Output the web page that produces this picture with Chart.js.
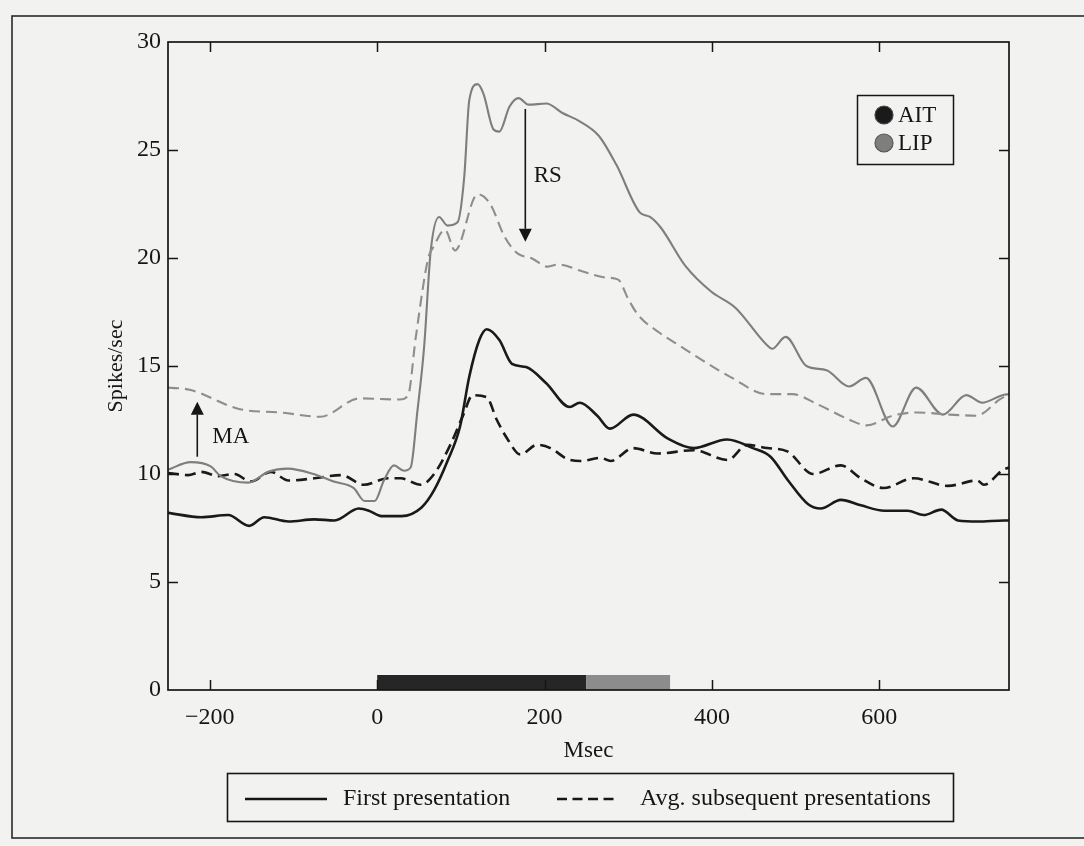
<!DOCTYPE html>
<html>
<head>
<meta charset="utf-8">
<script src="https://cdn.jsdelivr.net/npm/chart.js@4.4.0/dist/chart.umd.min.js"></script>
<style>
  html, body { margin: 0; padding: 0; background: #f2f2f0; }
  #wrap { position: relative; width: 1084px; height: 846px; }
</style>
</head>
<body>
<div id="wrap"><canvas id="c" width="1084" height="846"></canvas></div>
<script>
// ---------- data ----------
const xTicks = [-200, 0, 200, 400, 600];
const yTicks = [0, 5, 10, 15, 20, 25, 30];

// AIT, first presentation (solid black)
const aitFirstT = [-250,-210,-178,-153,-135,-106,-75,-51,-22,-10,5,29,53,68,84,99,110,122,131,146,161,178,202,230,242,263,278,306,347,378,418,449,470,491,515,530,554,578,606,634,653,674,694,718,749,755];
const aitFirstV = [8.2,8.0,8.1,7.6,8.0,7.8,7.9,7.85,8.4,8.3,8.05,8.05,8.45,9.25,10.6,12.2,14.5,16.2,16.7,16.2,15.1,14.95,14.2,13.1,13.3,12.7,12.1,12.75,11.65,11.2,11.6,11.2,10.8,9.7,8.6,8.4,8.8,8.55,8.3,8.3,8.1,8.35,7.85,7.8,7.85,7.85];

// AIT, avg. subsequent presentations (dashed black)
const aitSubT = [-250,-226,-210,-190,-171,-151,-127,-106,-75,-43,-16,13,28,52,68,88,103,114,131,143,156,171,191,207,227,243,267,279,306,335,378,419,442,466,490,521,554,578,605,641,682,717,725,748,755];
const aitSubV = [10.05,9.95,10.1,9.9,10.0,9.65,10.1,9.7,9.8,9.95,9.5,9.8,9.8,9.5,10.0,11.4,12.75,13.65,13.55,12.5,11.6,10.9,11.35,11.2,10.7,10.6,10.75,10.6,11.2,10.95,11.1,10.65,11.35,11.2,11.05,10.0,10.4,9.8,9.35,9.8,9.45,9.7,9.5,10.2,10.3];

// LIP, first presentation (solid gray)
const lipFirstT = [-250,-223,-199,-187,-154,-130,-107,-76,-52,-28,-15,-3,8,20,32,40,48,56,64,74,84,96,104,110,120,127,139,146,158,169,181,202,222,241,265,286,314,326,339,368,399,428,465,472,488,513,537,564,584,616,644,676,704,723,747,755];
const lipFirstV = [10.2,10.55,10.35,9.9,9.6,10.1,10.25,10.0,9.65,9.35,8.75,8.75,9.7,10.4,10.15,10.3,12.9,15.85,20.35,21.9,21.5,21.65,23.75,27.3,28.05,27.6,25.95,25.85,27.0,27.4,27.1,27.15,26.7,26.35,25.65,24.3,22.1,21.9,21.4,19.65,18.45,17.7,16.0,15.8,16.35,15.0,14.8,14.05,14.45,12.2,14.0,12.75,13.65,13.3,13.65,13.7];

// LIP, avg. subsequent presentations (dashed gray)
const lipSubT = [-250,-224,-164,-116,-68,-21,27,37,46,61,67,81,93,120,135,152,168,184,204,216,244,272,288,300,312,337,361,385,424,465,496,525,565,585,616,645,684,716,744,755];
const lipSubV = [14.0,13.9,13.0,12.85,12.65,13.5,13.45,13.65,16.3,20.0,20.5,21.3,20.35,22.95,22.5,21.0,20.2,20.0,19.6,19.7,19.4,19.1,19.0,18.1,17.35,16.55,15.95,15.35,14.45,13.7,13.7,13.25,12.5,12.25,12.7,12.85,12.75,12.7,13.45,13.7];

// stimulus epochs (msec): dark bar 0-250, gray bar 250-350
const stimEpochs = [0, 250, 350];

// annotation arrows: [x, yFrom, yTo] and label anchors [x, y]
const maArrow = [-215, 10.8, 13.35];
const maLabel = [-197, 11.7];
const rsArrow = [177, 26.9, 20.75];
const rsLabel = [187, 23.8];

const seriesNames = ['AIT', 'LIP'];
const styleNames = ['First presentation', 'Avg. subsequent presentations'];

// ---------- helpers ----------
const pts = (t, v) => t.map((x, i) => ({ x, y: v[i] }));
const SERIF = '"Liberation Serif", "DejaVu Serif", serif';
const INK = '#161616';
const AIT_COL = '#1a1a1a';
const LIP_COL = '#7e7e7e';
const LIP_COL_D = '#8e8e8e';

const decor = {
  id: 'decor',
  beforeDraw(chart) {
    const { ctx } = chart;
    ctx.save();
    ctx.fillStyle = '#f2f2f0';
    ctx.fillRect(0, 0, chart.width, chart.height);
    // outer figure frame
    ctx.strokeStyle = '#2a2a2a';
    ctx.lineWidth = 1.6;
    ctx.strokeRect(12, 16, 1090, 822);
    ctx.restore();
  },
  afterDatasetsDraw(chart) {
    const { ctx, chartArea: a, scales: { x, y } } = chart;
    ctx.save();

    // stimulus bar
    const yb = y.getPixelForValue(0);
    const barH = 15;
    ctx.fillStyle = '#262626';
    ctx.fillRect(x.getPixelForValue(stimEpochs[0]), yb - barH, x.getPixelForValue(stimEpochs[1]) - x.getPixelForValue(stimEpochs[0]), barH);
    ctx.fillStyle = '#8c8c8c';
    ctx.fillRect(x.getPixelForValue(stimEpochs[1]), yb - barH, x.getPixelForValue(stimEpochs[2]) - x.getPixelForValue(stimEpochs[1]), barH);

    // frame
    ctx.strokeStyle = INK;
    ctx.lineWidth = 1.7;
    ctx.strokeRect(a.left, a.top, a.right - a.left, a.bottom - a.top);

    // inward ticks
    const tl = 10;
    ctx.lineWidth = 1.5;
    ctx.beginPath();
    xTicks.forEach(v => {
      const px = Math.round(x.getPixelForValue(v)) + 0.5;
      ctx.moveTo(px, a.bottom); ctx.lineTo(px, a.bottom - tl);
      ctx.moveTo(px, a.top); ctx.lineTo(px, a.top + tl);
    });
    yTicks.forEach(v => {
      if (v === y.min || v === y.max) return;
      const py = Math.round(y.getPixelForValue(v)) + 0.5;
      ctx.moveTo(a.left, py); ctx.lineTo(a.left + tl, py);
      ctx.moveTo(a.right, py); ctx.lineTo(a.right - tl, py);
    });
    ctx.stroke();

    // arrows
    const arrow = (xv, y1v, y2v) => {
      const px = x.getPixelForValue(xv);
      const p1 = y.getPixelForValue(y1v);
      const p2 = y.getPixelForValue(y2v);
      const dir = p2 > p1 ? 1 : -1;
      const hl = 13, hw = 6.5;
      ctx.strokeStyle = INK;
      ctx.lineWidth = 1.6;
      ctx.beginPath();
      ctx.moveTo(px, p1);
      ctx.lineTo(px, p2 - dir * hl);
      ctx.stroke();
      ctx.fillStyle = INK;
      ctx.beginPath();
      ctx.moveTo(px, p2);
      ctx.lineTo(px - hw, p2 - dir * hl);
      ctx.lineTo(px + hw, p2 - dir * hl);
      ctx.closePath();
      ctx.fill();
    };
    arrow(maArrow[0], maArrow[1], maArrow[2]);
    arrow(rsArrow[0], rsArrow[1], rsArrow[2]);

    ctx.fillStyle = INK;
    ctx.font = '23px ' + SERIF;
    ctx.textAlign = 'left';
    ctx.textBaseline = 'middle';
    ctx.fillText('MA', x.getPixelForValue(maLabel[0]), y.getPixelForValue(maLabel[1]));
    ctx.fillText('RS', x.getPixelForValue(rsLabel[0]), y.getPixelForValue(rsLabel[1]));

    // area legend (top right)
    ctx.lineWidth = 1.5;
    ctx.strokeStyle = INK;
    ctx.strokeRect(857.5, 95.5, 96, 69);
    const dots = [[AIT_COL, '#444', 115], [LIP_COL, '#555', 143]];
    dots.forEach((d, i) => {
      ctx.beginPath();
      ctx.arc(884, d[2], 9, 0, Math.PI * 2);
      ctx.fillStyle = d[0];
      ctx.fill();
      ctx.lineWidth = 1.2;
      ctx.strokeStyle = d[1];
      ctx.stroke();
      ctx.fillStyle = INK;
      ctx.font = '23px ' + SERIF;
      ctx.textAlign = 'left';
      ctx.textBaseline = 'middle';
      ctx.fillText(seriesNames[i], 898, d[2] + 1);
    });

    // line-style legend (bottom)
    ctx.lineWidth = 1.6;
    ctx.strokeStyle = INK;
    ctx.strokeRect(227.5, 773.5, 726, 48);
    ctx.lineWidth = 2.5;
    ctx.beginPath();
    ctx.moveTo(245, 799); ctx.lineTo(327, 799);
    ctx.stroke();
    ctx.setLineDash([10, 5.5]);
    ctx.beginPath();
    ctx.moveTo(557, 799); ctx.lineTo(614, 799);
    ctx.stroke();
    ctx.setLineDash([]);
    ctx.fillStyle = INK;
    ctx.font = '24px ' + SERIF;
    ctx.textBaseline = 'middle';
    ctx.textAlign = 'left';
    ctx.fillText(styleNames[0], 343, 799);
    ctx.fillText(styleNames[1], 640, 799);

    ctx.restore();
  }
};

const commonLine = { pointRadius: 0, fill: false, cubicInterpolationMode: 'monotone' };

new Chart(document.getElementById('c'), {
  type: 'line',
  data: {
    datasets: [
      Object.assign({ label: 'LIP subsequent', data: pts(lipSubT, lipSubV), borderColor: LIP_COL_D, borderWidth: 2.1, borderDash: [11, 6] }, commonLine),
      Object.assign({ label: 'LIP first', data: pts(lipFirstT, lipFirstV), borderColor: LIP_COL, borderWidth: 2.1 }, commonLine),
      Object.assign({ label: 'AIT subsequent', data: pts(aitSubT, aitSubV), borderColor: AIT_COL, borderWidth: 2.6, borderDash: [11, 6] }, commonLine),
      Object.assign({ label: 'AIT first', data: pts(aitFirstT, aitFirstV), borderColor: AIT_COL, borderWidth: 2.6 }, commonLine)
    ]
  },
  options: {
    responsive: false,
    animation: false,
    devicePixelRatio: 1,
    layout: { padding: { left: 0, top: 42, right: 75, bottom: 81 } },
    plugins: { legend: { display: false }, tooltip: { enabled: false } },
    scales: {
      x: {
        type: 'linear',
        min: -250,
        max: 755,
        afterBuildTicks: s => { s.ticks = xTicks.map(v => ({ value: v })); },
        afterFit: s => { s.height = 75; },
        grid: { display: false, drawTicks: false },
        border: { display: false },
        ticks: {
          padding: 13,
          color: INK,
          font: { family: SERIF, size: 24 },
          maxRotation: 0,
          callback: v => (v < 0 ? '\u2212' + Math.abs(v) : String(v))
        },
        title: { display: true, text: 'Msec', color: INK, font: { family: SERIF, size: 23 }, padding: { top: 0, bottom: 0 } }
      },
      y: {
        min: 0,
        max: 30,
        afterBuildTicks: s => { s.ticks = yTicks.map(v => ({ value: v })); },
        afterFit: s => { s.width = 168; },
        grid: { display: false, drawTicks: false },
        border: { display: false },
        ticks: { padding: 7, color: INK, font: { family: SERIF, size: 24 } },
        title: { display: true, text: 'Spikes/sec', color: INK, font: { family: SERIF, size: 22 }, padding: { top: 103, bottom: 0 } }
      }
    }
  },
  plugins: [decor]
});
</script>
</body>
</html>
